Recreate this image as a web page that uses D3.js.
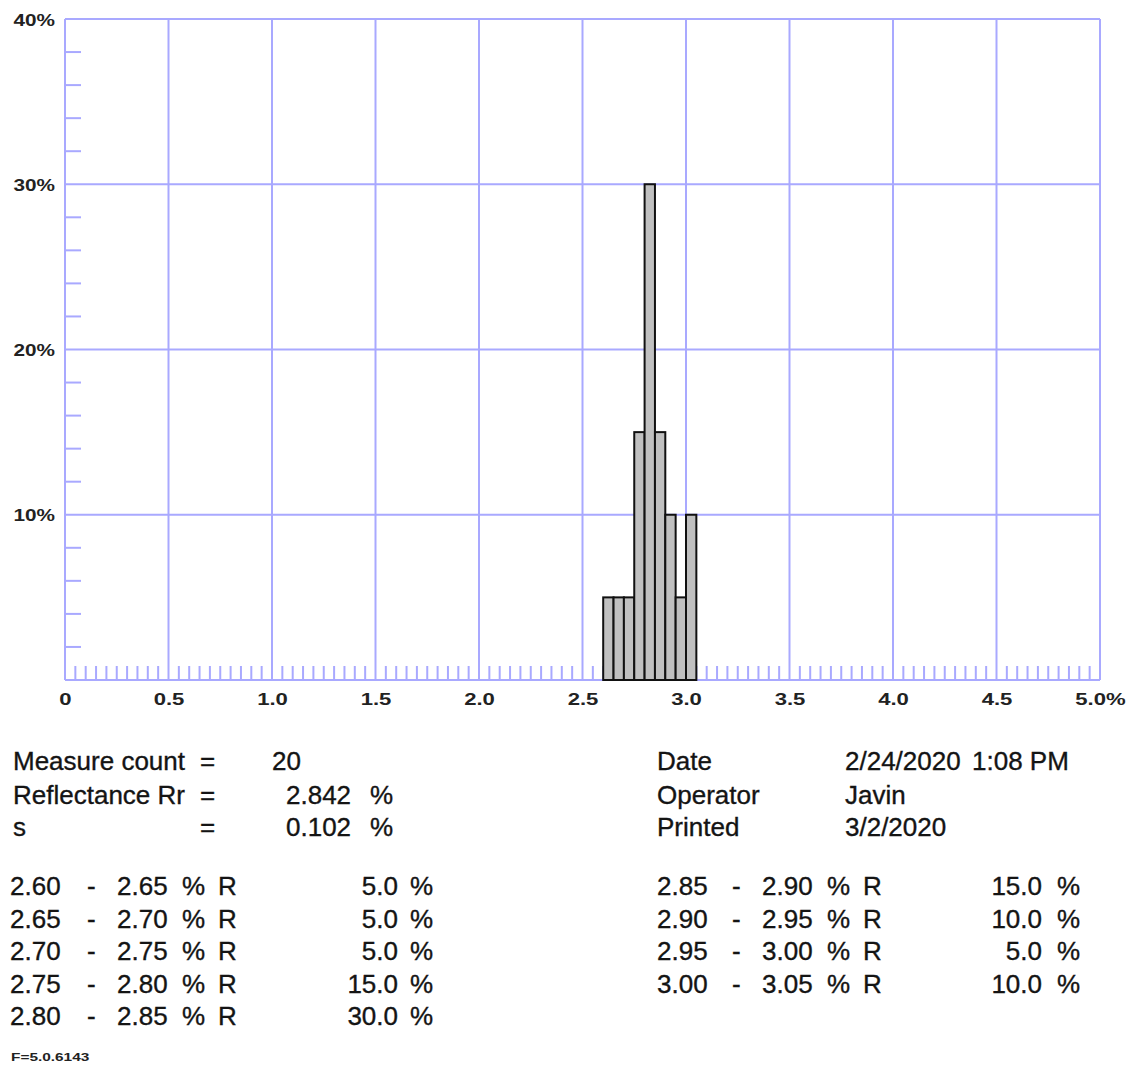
<!DOCTYPE html>
<html>
<head>
<meta charset="utf-8">
<script src="https://cdn.jsdelivr.net/npm/d3@7"></script>
<style>
  html, body { margin: 0; padding: 0; background: #fff; }
  svg { display: block; }
  .txt { font-family: "Liberation Sans", Arial, sans-serif; font-size: 26px; fill: #141414; stroke: #141414; stroke-width: 0.35px; }
  .axl { font-family: "Liberation Sans", Arial, sans-serif; font-size: 17px; font-weight: bold; fill: #222; }
  .foot { font-family: "Liberation Sans", Arial, sans-serif; font-size: 11px; font-weight: bold; fill: #222; }
</style>
</head>
<body>
<svg id="chart" width="1131" height="1069"></svg>
<script>
// Histogram bins (lower edge, % R) and share of measurements in each bin (%)
const binStarts = [2.60, 2.65, 2.70, 2.75, 2.80, 2.85, 2.90, 2.95, 3.00];
const binWidth = 0.05;
const binPct = [5.0, 5.0, 5.0, 15.0, 30.0, 15.0, 10.0, 5.0, 10.0];

// Axis ticks
const xTicks = [0, 0.5, 1.0, 1.5, 2.0, 2.5, 3.0, 3.5, 4.0, 4.5, 5.0];
const xTickLabels = ["0", "0.5", "1.0", "1.5", "2.0", "2.5", "3.0", "3.5", "4.0", "4.5", "5.0%"];
const yTicks = [10, 20, 30, 40];
const yTickLabels = ["10%", "20%", "30%", "40%"];

// Summary statistics
const statLabels = ["Measure count", "Reflectance Rr", "s"];
const statValues = ["20", "2.842", "0.102"];
const statUnits = ["", "%", "%"];
const infoLabels = ["Date", "Operator", "Printed"];
const infoValues = ["2/24/2020", "Javin", "3/2/2020"];
const infoTime = "1:08 PM";
const footer = "F=5.0.6143";

const svg = d3.select("#chart");
const gridColor = "#a9a9ff";

const x = d3.scaleLinear().domain([0, 5]).range([65, 1100]);
const y = d3.scaleLinear().domain([0, 40]).range([680, 19]);

// Grid lines
const grid = svg.append("g").attr("stroke", gridColor).attr("stroke-width", 2);
grid.selectAll("line.v").data(xTicks).join("line").attr("class", "v")
  .attr("x1", d => x(d)).attr("x2", d => x(d)).attr("y1", y(40)).attr("y2", y(0));
grid.selectAll("line.h").data(yTicks.concat([0])).join("line").attr("class", "h")
  .attr("x1", x(0)).attr("x2", x(5)).attr("y1", d => y(d)).attr("y2", d => y(d));

// Minor ticks along the bottom (every 0.05) and left (every 2 %)
const minorX = d3.range(1, 100).filter(i => i % 10 !== 0).map(i => i * 0.05);
const minorY = d3.range(1, 20).filter(i => i % 5 !== 0).map(i => i * 2);
grid.selectAll("line.mx").data(minorX).join("line").attr("class", "mx")
  .attr("x1", d => x(d)).attr("x2", d => x(d)).attr("y1", y(0)).attr("y2", y(0) - 14);
grid.selectAll("line.my").data(minorY).join("line").attr("class", "my")
  .attr("x1", x(0)).attr("x2", x(0) + 16).attr("y1", d => y(d)).attr("y2", d => y(d));

// Bars
svg.append("g").selectAll("rect").data(binStarts).join("rect")
  .attr("x", d => x(d))
  .attr("width", x(binWidth) - x(0))
  .attr("y", (d, i) => y(binPct[i]))
  .attr("height", (d, i) => y(0) - y(binPct[i]))
  .attr("fill", "#c0c0c0")
  .attr("stroke", "#111")
  .attr("stroke-width", 2);

// Axis labels
const xAxis = svg.append("g").attr("transform", `translate(0,${y(0)})`)
  .call(d3.axisBottom(x).tickValues(xTicks).tickSize(0)
    .tickFormat((d, i) => xTickLabels[i]));
xAxis.select(".domain").remove();
xAxis.selectAll("text").attr("class", "axl").attr("font-size", null).attr("font-family", null)
  .attr("fill", null).attr("y", 0).attr("dy", null)
  .attr("transform", "translate(0,24.5) scale(1.3,1)");

const yAxis = svg.append("g").attr("transform", `translate(${x(0)},0)`)
  .call(d3.axisLeft(y).tickValues(yTicks).tickSize(0)
    .tickFormat((d, i) => yTickLabels[i]));
yAxis.select(".domain").remove();
yAxis.selectAll("text").attr("class", "axl").attr("font-size", null).attr("font-family", null)
  .attr("fill", null).attr("x", 0).attr("dy", "0.36em")
  .attr("transform", "translate(-10,0) scale(1.22,1)");

// Statistics block
const txt = (xx, yy, s, anchor) => svg.append("text").attr("class", "txt")
  .attr("x", xx).attr("y", yy).attr("text-anchor", anchor || "start").text(s);

const statRows = [770, 804, 836];
statLabels.forEach((s, i) => {
  txt(13, statRows[i], s);
  txt(200, statRows[i], "=");
  txt(i === 0 ? 272 : 286, statRows[i], statValues[i]);
  if (statUnits[i]) txt(370, statRows[i], statUnits[i]);
  txt(657, statRows[i], infoLabels[i]);
  txt(845, statRows[i], infoValues[i]);
});
txt(972, statRows[0], infoTime);

// Bin table
const tableRows = [895, 928, 960, 993, 1025];
const cols = [
  { lo: 10, dash: 87, hi: 117, pct: 182, r: 218, val: 398, unit: 410 },
  { lo: 657, dash: 732, hi: 762, pct: 827, r: 863, val: 1042, unit: 1057 }
];
binStarts.forEach((b, i) => {
  const c = i < 5 ? cols[0] : cols[1];
  const yy = tableRows[i < 5 ? i : i - 5];
  txt(c.lo, yy, b.toFixed(2));
  txt(c.dash, yy, "-");
  txt(c.hi, yy, (b + binWidth).toFixed(2));
  txt(c.pct, yy, "%");
  txt(c.r, yy, "R");
  txt(c.val, yy, binPct[i].toFixed(1), "end");
  txt(c.unit, yy, "%");
});

// Firmware footer
svg.append("text").attr("class", "foot")
  .attr("transform", "translate(11,1061) scale(1.4,1)").text(footer);
</script>
</body>
</html>
